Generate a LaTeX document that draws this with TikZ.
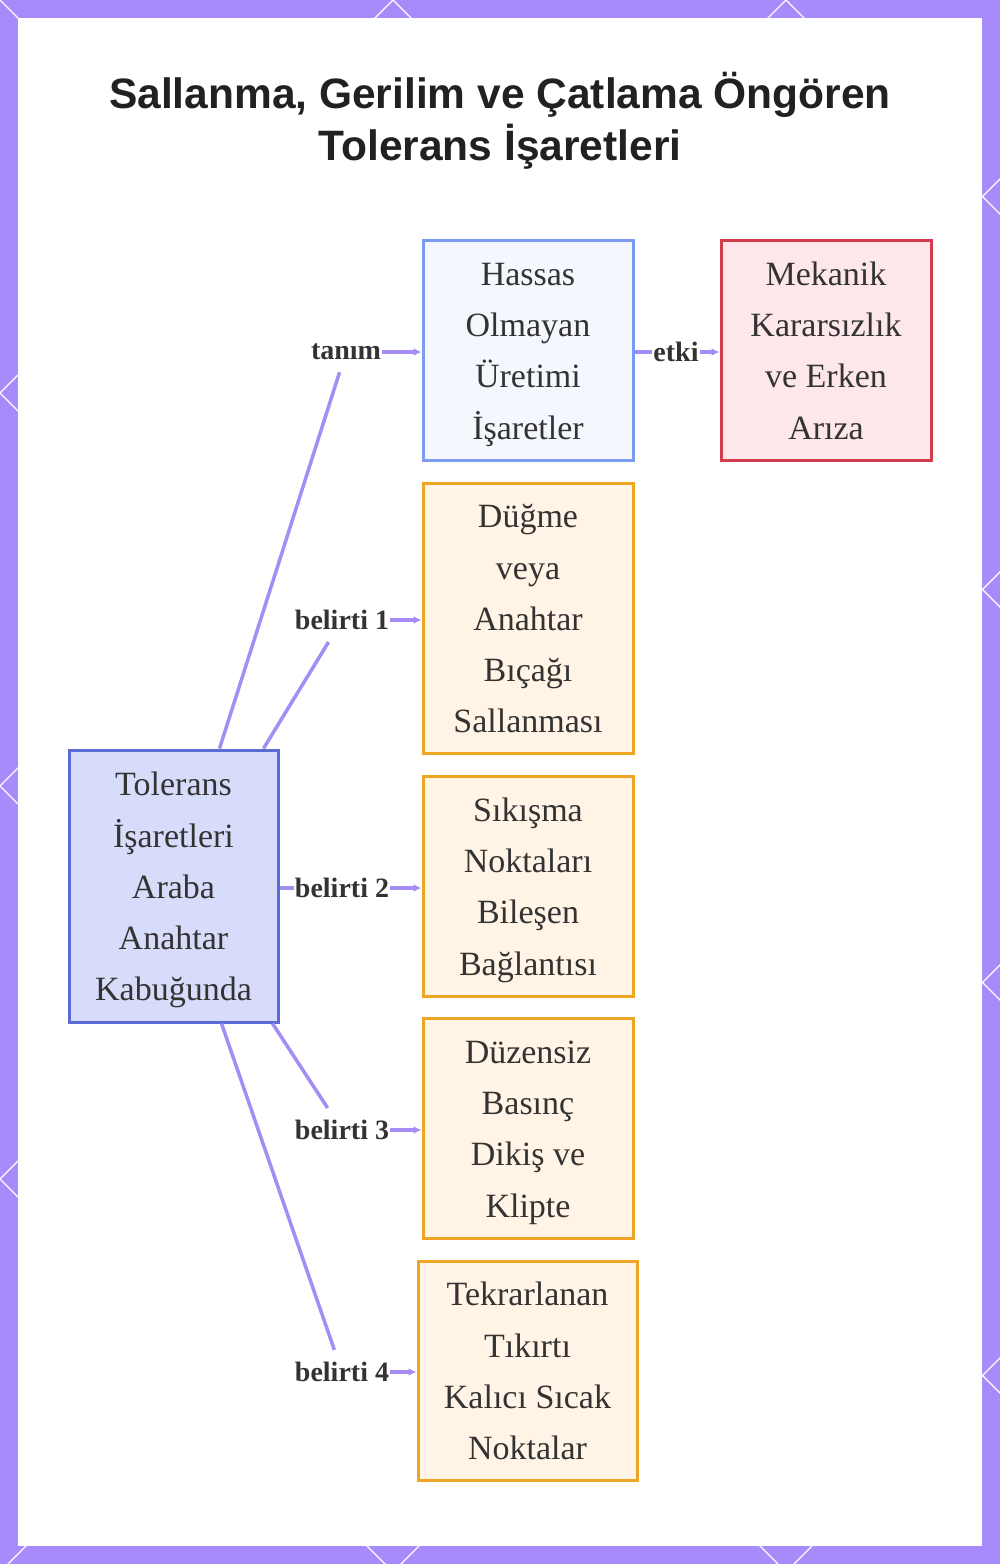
\documentclass[tikz,border=0pt]{standalone}
\usepackage{fontspec}
\setmainfont{Liberation Serif}
\newfontfamily\titlefont{Liberation Sans}
\usetikzlibrary{arrows.meta}

\definecolor{framecol}{HTML}{A78BFA}
\definecolor{edgecol}{HTML}{A68CF5}
\definecolor{tolfill}{HTML}{D8DCFB}
\definecolor{toldraw}{HTML}{5A6BD4}
\definecolor{defill}{HTML}{F5F7FF}
\definecolor{dedraw}{HTML}{7C9CF2}
\definecolor{efffill}{HTML}{FDE7EA}
\definecolor{effdraw}{HTML}{D23C4B}
\definecolor{symfill}{HTML}{FFF4E5}
\definecolor{symdraw}{HTML}{EEA524}
\definecolor{inkcol}{HTML}{333333}

% first line height of the box texts
\newcommand{\boxtop}{\rule{0pt}{40pt}}

\begin{document}
\begin{tikzpicture}[x=1pt, y=-1pt,
    box/.style={rectangle, line width=3pt, text=inkcol, align=center,
        inner sep=0pt, font=\fontsize{34}{51.3}\selectfont,
        execute at end node=\strut},
    rootbox/.style={box, fill=tolfill, draw=toldraw, minimum width=209pt, minimum height=272pt},
    defbox/.style={box, fill=defill, draw=dedraw, minimum width=210pt, minimum height=220pt},
    effbox/.style={box, fill=efffill, draw=effdraw, minimum width=210pt, minimum height=220pt},
    symbox/.style={box, fill=symfill, draw=symdraw, minimum width=210pt, minimum height=220pt},
    lbl/.style={text=inkcol, inner xsep=1pt, inner ysep=12pt,
        font=\fontsize{28}{30}\selectfont\bfseries},
    link/.style={draw=edgecol, line width=3.5pt},
    arr/.style={link, -{Latex[length=8pt,width=8pt]}}]

    % frame with diamond lines
    \useasboundingbox (0,0) rectangle (1000,1564);
    \fill[framecol] (0,0) rectangle (1000,1564);
    \begin{scope}
        \clip (0,0) rectangle (1000,1564);
        \foreach \k in {-4,...,8} {
            \draw[white, line width=1.2pt] (\k*393,0) -- (\k*393-1600,1600);
            \draw[white, line width=1.2pt] (-\k*393+786,0) -- (-\k*393+2386,1600);
        }
    \end{scope}
    \fill[white] (18,18) rectangle (982,1546);

    % title
    \node[text=black!87, align=center, font=\titlefont\fontsize{42.5}{52}\selectfont\bfseries]
        (title) at (500,121) {Sallanma, Gerilim ve Çatlama Öngören\\Tolerans İşaretleri};

    % boxes
    \node[rootbox] (tol) at (173.5,886) {\boxtop Tolerans\\İşaretleri\\Araba\\Anahtar\\Kabuğunda};
    \node[defbox] (hassas) at (528,350) {\boxtop Hassas\\Olmayan\\Üretimi\\İşaretler};
    \node[effbox] (mekanik) at (826,350) {\boxtop Mekanik\\Kararsızlık\\ve Erken\\Arıza};
    \node[symbox, minimum height=270pt] (dugme) at (528,618) {\boxtop Düğme\\veya\\Anahtar\\Bıçağı\\Sallanması};
    \node[symbox] (sikisma) at (528,886) {\boxtop Sıkışma\\Noktaları\\Bileşen\\Bağlantısı};
    \node[symbox] (duzensiz) at (528,1128) {\boxtop Düzensiz\\Basınç\\Dikiş ve\\Klipte};
    \node[symbox, minimum width=219pt, minimum height=219pt] (tekrar) at (527.5,1370.5) {\boxtop Tekrarlanan\\Tıkırtı\\Kalıcı Sıcak\\Noktalar};

    % edge labels
    \node[lbl] (ltanim) at (346,352) {tanım};
    \node[lbl] (letki) at (676,352) {etki};
    \node[lbl] (lb1) at (342,620) {belirti 1};
    \node[lbl] (lb2) at (342,888) {belirti 2};
    \node[lbl] (lb3) at (342,1130) {belirti 3};
    \node[lbl] (lb4) at (342,1372) {belirti 4};

    % connectors
    \draw[link] ([xshift=46pt]tol.north) -- (ltanim);
    \draw[arr] (ltanim.east) -- (hassas.west |- ltanim.east);
    \draw[link] (hassas.east |- letki.west) -- (letki.west);
    \draw[arr] (letki.east) -- (mekanik.west |- letki.east);
    \draw[link] ([xshift=90pt]tol.north) -- (lb1);
    \draw[arr] (lb1.east) -- (dugme.west |- lb1.east);
    \draw[link] (tol.east |- lb2.west) -- (lb2.west);
    \draw[arr] (lb2.east) -- (sikisma.west |- lb2.east);
    \draw[link] ([xshift=99pt]tol.south) -- (lb3);
    \draw[arr] (lb3.east) -- (duzensiz.west |- lb3.east);
    \draw[link] ([xshift=48pt]tol.south) -- (lb4);
    \draw[arr] (lb4.east) -- (tekrar.west |- lb4.east);
\end{tikzpicture}
\end{document}
